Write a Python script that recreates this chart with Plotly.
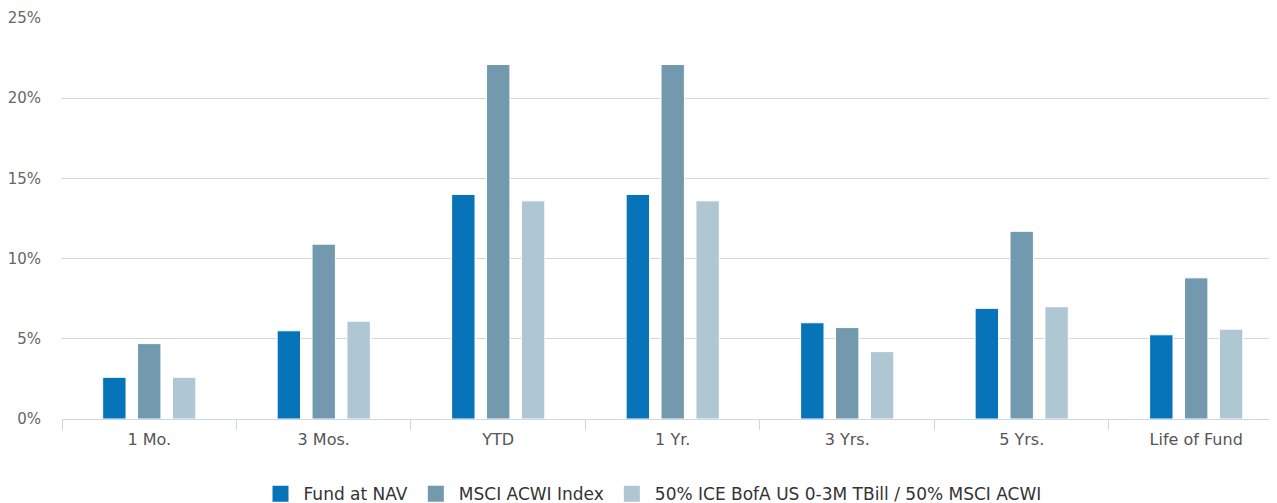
import plotly.graph_objects as go

# ── Data ─────────────────────────────────────────────────────────────────────
periods = ["1 Mo.", "3 Mos.", "YTD", "1 Yr.", "3 Yrs.", "5 Yrs.", "Life of Fund"]
fund_nav = [2.6, 5.5, 14.0, 14.0, 6.0, 6.9, 5.25]
msci_acwi = [4.7, 10.9, 22.1, 22.1, 5.7, 11.7, 8.8]
blend = [2.6, 6.1, 13.6, 13.6, 4.2, 7.0, 5.6]

series_names = [
    "Fund at NAV",
    "MSCI ACWI Index",
    "50% ICE BofA US 0-3M TBill / 50% MSCI ACWI",
]
series_colors = ["#0773b9", "#7399ae", "#afc6d3"]

y_ticks = [0, 5, 10, 15, 20, 25]
y_tick_labels = [f"{v}%" for v in y_ticks]

FONT = "DejaVu Sans, Verdana, sans-serif"

fig = go.Figure()
for name, values, color in zip(series_names, [fund_nav, msci_acwi, blend], series_colors):
    fig.add_trace(
        go.Bar(
            x=periods,
            y=values,
            name=name,
            legendgroup=name,
            showlegend=False,
            marker=dict(color=color, line=dict(color="#ffffff", width=1)),
            hovertemplate="%{x}: %{y:.2f}%<extra>" + name + "</extra>",
        )
    )
    # legend proxy: bigger square swatch than the default bar icon
    fig.add_trace(
        go.Scatter(
            x=[None],
            y=[None],
            mode="markers",
            name=name,
            legendgroup=name,
            marker=dict(symbol="square", size=16, color=color),
            hoverinfo="skip",
        )
    )

# the page body has an 8px margin, so the figure is sized to the visible area
fig.update_layout(
    width=1269,
    height=495,
    barmode="group",
    bargap=0.4,
    bargroupgap=0.33,
    plot_bgcolor="#ffffff",
    paper_bgcolor="#ffffff",
    font=dict(family=FONT, color="#666666", size=15),
    margin=dict(l=54, r=0, t=10, b=84, autoexpand=False),
    showlegend=True,
    legend=dict(
        orientation="h",
        x=0.4856,
        xanchor="center",
        y=-0.1425,
        yanchor="top",
        font=dict(family=FONT, size=17, color="#333333"),
        itemwidth=36,
        traceorder="normal",
    ),
    xaxis=dict(
        range=[-0.5, 6.463],
        showgrid=False,
        showline=True,
        linecolor="#ccd6eb",
        linewidth=1,
        ticks="outside",
        tickson="boundaries",
        ticklen=10,
        tickcolor="#ccd6eb",
        ticklabelstandoff=6,
        tickfont=dict(family=FONT, size=16, color="#555555"),
        automargin=False,
        fixedrange=True,
    ),
    yaxis=dict(
        range=[0, 25],
        tickvals=y_ticks,
        ticktext=y_tick_labels,
        showgrid=True,
        gridcolor="#d6d6d6",
        gridwidth=1,
        zeroline=False,
        ticklabelstandoff=20,
        tickfont=dict(family=FONT, size=15, color="#666666"),
        automargin=False,
        fixedrange=True,
    ),
)

fig.write_html("out.html")
